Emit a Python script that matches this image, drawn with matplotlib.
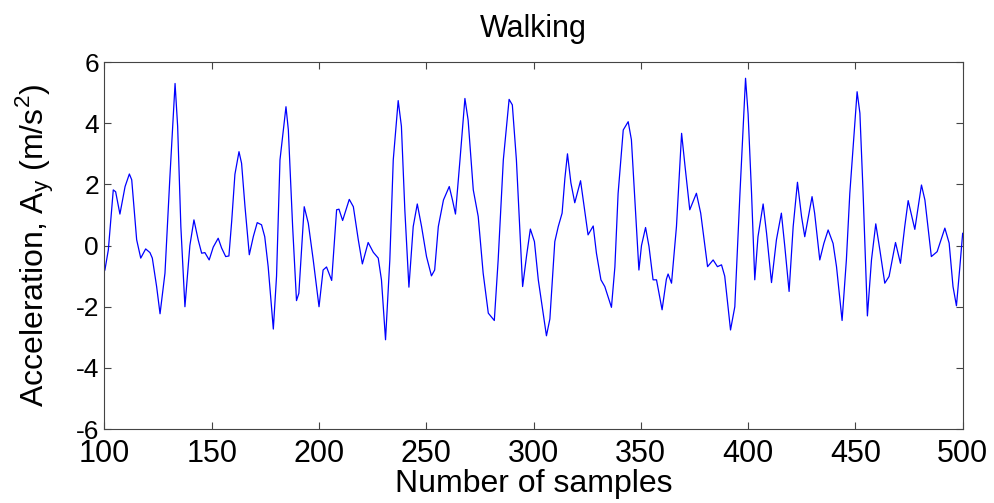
import matplotlib
matplotlib.use("Agg")
import matplotlib.pyplot as plt

# sample index / acceleration
samples = [100.2, 101.8, 104.1, 105.2, 107.2, 109.6, 111.6, 112.7, 115.0, 116.9,
           119.2, 121.2, 122.3, 124.3, 125.9, 128.2, 130.5, 132.9, 134.1, 135.6,
           137.5, 139.8, 141.7, 143.7, 145.3, 146.8, 148.8, 150.7, 153.0, 154.6,
           156.5, 158.0, 159.3, 160.8, 162.7, 163.9, 165.5, 167.5, 169.4, 171.2,
           173.2, 174.7, 176.3, 178.7, 180.2, 181.8, 184.6, 185.7, 187.7, 189.5,
           190.6, 193.1, 195.0, 197.3, 200.0, 201.9, 203.5, 205.9, 208.2, 209.3,
           211.0, 214.1, 216.0, 218.3, 220.2, 222.9, 225.3, 227.6, 229.1, 231.0,
           233.0, 234.6, 236.9, 238.4, 240.0, 241.9, 243.9, 245.8, 247.8, 250.1,
           252.4, 253.9, 255.6, 258.0, 260.7, 262.2, 263.6, 265.7, 268.0, 269.5,
           271.9, 274.2, 276.5, 278.9, 281.7, 283.5, 285.9, 288.6, 290.1, 292.0,
           294.9, 296.8, 298.5, 300.4, 302.2, 304.0, 306.0, 307.6, 309.9, 311.5,
           313.3, 314.6, 315.8, 317.4, 319.2, 321.9, 323.6, 325.4, 327.8, 329.3,
           331.4, 333.2, 336.3, 337.9, 339.4, 341.8, 344.1, 345.6, 347.2, 349.1,
           350.3, 352.2, 353.8, 355.7, 357.3, 359.9, 361.9, 362.7, 364.3, 366.6,
           369.0, 370.6, 372.8, 375.9, 377.9, 381.1, 383.7, 385.7, 387.6, 389.1,
           391.8, 393.8, 396.2, 398.8, 400.0, 401.6, 403.1, 404.6, 407.0, 408.6,
           410.9, 413.2, 415.5, 417.1, 419.1, 421.0, 423.0, 424.9, 426.4, 429.8,
           431.0, 433.4, 435.3, 437.3, 439.6, 441.2, 443.8, 445.8, 447.4, 450.8,
           452.1, 453.6, 455.6, 457.5, 459.5, 461.4, 463.7, 465.7, 468.7, 471.0,
           473.0, 474.6, 477.7, 480.8, 482.4, 485.4, 488.1, 491.7, 493.7, 495.5,
           497.1, 498.7, 500.0]
accel = [-0.80, -0.14, 1.82, 1.76, 1.03, 1.93, 2.34, 2.15, 0.19, -0.41,
         -0.11, -0.23, -0.41, -1.34, -2.23, -0.90, 2.25, 5.30, 3.90, 0.62,
         -2.00, 0.00, 0.84, 0.18, -0.25, -0.23, -0.47, -0.05, 0.24, -0.08,
         -0.36, -0.34, 0.80, 2.33, 3.07, 2.69, 1.27, -0.30, 0.30, 0.75,
         0.68, 0.29, -0.69, -2.73, -1.00, 2.80, 4.54, 3.78, 0.62, -1.80,
         -1.56, 1.27, 0.73, -0.47, -2.00, -0.80, -0.70, -1.14, 1.17, 1.19,
         0.82, 1.51, 1.27, 0.19, -0.60, 0.10, -0.22, -0.41, -1.12, -3.08,
         -0.47, 2.80, 4.74, 3.90, 1.16, -1.36, 0.62, 1.36, 0.62, -0.36,
         -0.99, -0.80, 0.62, 1.49, 1.93, 1.49, 1.03, 2.80, 4.81, 4.10,
         1.82, 0.95, -0.90, -2.21, -2.45, -0.47, 2.80, 4.78, 4.60, 2.80,
         -1.34, -0.30, 0.54, 0.13, -1.12, -1.98, -2.95, -2.40, 0.13, 0.62,
         1.06, 2.20, 3.00, 2.05, 1.40, 2.12, 1.27, 0.35, 0.64, -0.25,
         -1.12, -1.34, -2.02, -0.70, 1.70, 3.78, 4.05, 3.46, 1.50, -0.80,
         0.00, 0.59, -0.03, -1.12, -1.12, -2.10, -1.10, -0.93, -1.23, 0.62,
         3.67, 2.59, 1.17, 1.71, 1.06, -0.69, -0.47, -0.69, -0.63, -1.00,
         -2.76, -2.00, 1.71, 5.47, 4.30, 1.71, -1.12, 0.29, 1.36, 0.40,
         -1.21, 0.19, 1.06, -0.03, -1.50, 0.62, 2.07, 0.95, 0.29, 1.60,
         1.06, -0.47, 0.07, 0.51, 0.07, -0.69, -2.45, -0.47, 1.71, 5.03,
         4.33, 1.71, -2.30, -0.47, 0.71, -0.14, -1.23, -1.01, 0.10, -0.58,
         0.62, 1.47, 0.53, 1.98, 1.49, -0.36, -0.20, 0.57, 0.08, -1.34,
         -1.97, -0.69, 0.40]

xticks = [100, 150, 200, 250, 300, 350, 400, 450, 500]
yticks = [-6, -4, -2, 0, 2, 4, 6]

plt.rcParams["font.family"] = ["Liberation Sans", "DejaVu Sans"]
plt.rcParams["axes.unicode_minus"] = False

fig = plt.figure(figsize=(9.95, 5.03), dpi=100)
ax = fig.add_axes([0.105, 0.147, 0.8625, 0.7296])
ax.plot(samples, accel, color="blue", linewidth=0.9)

ax.set_xlim(100, 500)
ax.set_ylim(-6, 6)
ax.set_xticks(xticks)
ax.set_yticks(yticks)
ax.tick_params(direction="in", length=5, width=0.8, top=True, right=True,
               color="#444444")
ax.tick_params(axis="x", labelsize=22, pad=7)
ax.tick_params(axis="y", labelsize=19, pad=4)
for s in ax.spines.values():
    s.set_color("#444444")
    s.set_linewidth(0.8)

ax.set_title("Walking", fontsize=22, pad=18)
ax.set_xlabel("Number of samples", fontsize=23, labelpad=0)
ax.set_ylabel(r"Acceleration, A$_\mathregular{y}$ (m/s$^\mathregular{2}$)", fontsize=23, labelpad=14)

fig.savefig("out.png", dpi=100)
